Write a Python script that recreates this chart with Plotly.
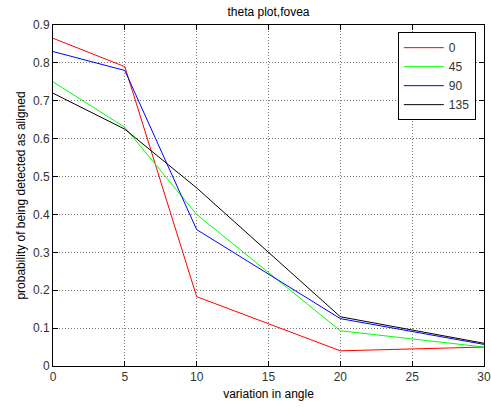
import plotly.graph_objects as go

x_vals = [0, 5, 10, 20, 30]
series_names = ["0", "45", "90", "135"]
s0 = [0.865, 0.79, 0.183, 0.04, 0.05]
s45 = [0.75, 0.63, 0.40, 0.093, 0.05]
s90 = [0.83, 0.78, 0.36, 0.125, 0.057]
s135 = [0.72, 0.625, 0.47, 0.13, 0.06]
colors = ["#ff0000", "#00ff00", "#0000ff", "#000000"]
x_ticks = [0, 5, 10, 15, 20, 25, 30]
x_labels = ["0", "5", "10", "15", "20", "25", "30"]
y_ticks = [0, 0.1, 0.2, 0.3, 0.4, 0.5, 0.6, 0.7, 0.8, 0.9]
y_labels = ["0", "0.1", "0.2", "0.3", "0.4", "0.5", "0.6", "0.7", "0.8", "0.9"]

FONT = "Liberation Sans, Arial"

fig = go.Figure()
for name, ys, c in zip(series_names, [s0, s45, s90, s135], colors):
    fig.add_trace(go.Scatter(x=x_vals, y=ys, mode="lines", name=name,
                             line=dict(color=c, width=1)))

axis_common = dict(
    showline=True, linecolor="#000000", linewidth=1, mirror="ticks",
    ticks="inside", ticklen=5, tickcolor="#000000",
    showgrid=True, gridcolor="#7a7a7a", griddash="1px,2px", gridwidth=1,
    zeroline=False, automargin=False,
    tickfont=dict(family=FONT, size=12, color="#333333"),
)

fig.update_layout(
    width=491, height=408,
    margin=dict(l=53, r=7, t=25, b=42),
    paper_bgcolor="white", plot_bgcolor="white",
    title=dict(text="theta plot,fovea", x=(53 + 484) / 2 / 491, xanchor="center",
               y=1 - 12 / 408, yanchor="middle",
               font=dict(family=FONT, size=12, color="#000000")),
    xaxis=dict(range=[0, 30], tickvals=x_ticks, ticktext=x_labels,
               title=dict(text="variation in angle", standoff=6,
                          font=dict(family=FONT, size=12, color="#000000")),
               **axis_common),
    yaxis=dict(range=[0, 0.9], tickvals=y_ticks, ticktext=y_labels,
               title=dict(text="probability of being detected as aligned", standoff=4,
                          font=dict(family=FONT, size=12, color="#000000")),
               **axis_common),
    legend=dict(x=0.80, y=0.979, xanchor="left", yanchor="top",
                bgcolor="white", bordercolor="#000000", borderwidth=1,
                font=dict(family=FONT, size=12, color="#333333"),
                tracegroupgap=0, itemwidth=40),
    showlegend=True,
)

fig.write_html("out.html", config={"displayModeBar": False},
               post_script="document.body.style.margin='0';document.body.style.padding='0';document.body.style.overflow='hidden';")
